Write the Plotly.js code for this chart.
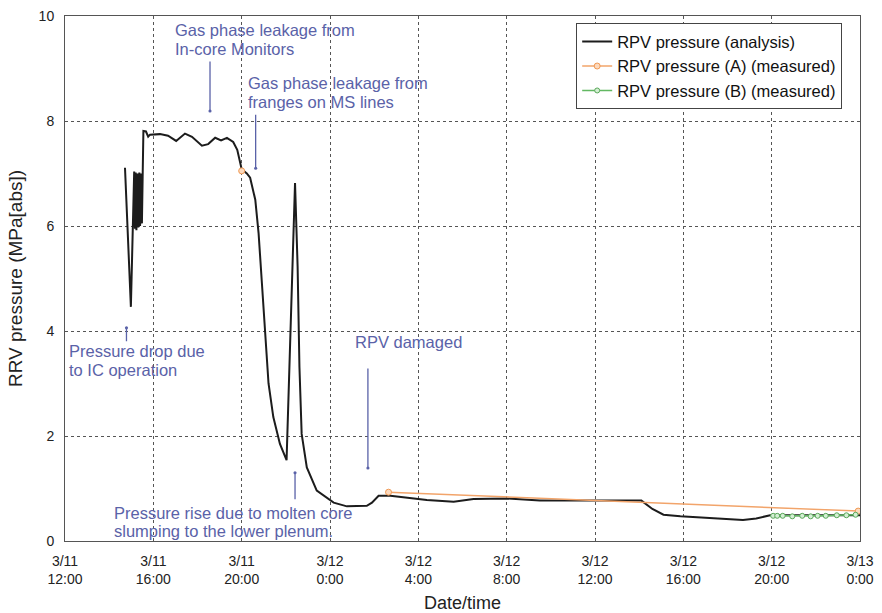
<!DOCTYPE html>
<html>
<head>
<meta charset="utf-8">
<script src="https://cdn.plot.ly/plotly-3.0.1.min.js"></script>
<style>html,body{margin:0;padding:0;background:#fff;}#chart{width:882px;height:613px;}</style>
</head>
<body>
<div id="chart"></div>
<script>
// ---- data ----
const analysisTime = [
'2011-03-11 14:43','2011-03-11 14:59','2011-03-11 15:08','2011-03-11 15:10','2011-03-11 15:12',
'2011-03-11 15:14','2011-03-11 15:17','2011-03-11 15:19','2011-03-11 15:22','2011-03-11 15:24',
'2011-03-11 15:27','2011-03-11 15:29','2011-03-11 15:31','2011-03-11 15:33','2011-03-11 15:40',
'2011-03-11 15:46','2011-03-11 15:51','2011-03-11 16:18','2011-03-11 16:40','2011-03-11 17:02',
'2011-03-11 17:26','2011-03-11 17:45','2011-03-11 18:12','2011-03-11 18:29','2011-03-11 18:48',
'2011-03-11 19:04','2011-03-11 19:20','2011-03-11 19:37','2011-03-11 19:48','2011-03-11 20:00',
'2011-03-11 20:14','2011-03-11 20:23','2011-03-11 20:37','2011-03-11 20:46','2011-03-11 20:55',
'2011-03-11 21:04','2011-03-11 21:13','2011-03-11 21:26','2011-03-11 21:44','2011-03-11 22:02',
'2011-03-11 22:25','2011-03-11 22:32','2011-03-11 22:37','2011-03-11 22:43','2011-03-11 22:57',
'2011-03-11 23:24','2011-03-12 00:10','2011-03-12 00:46','2011-03-12 01:40','2011-03-12 01:54',
'2011-03-12 02:12','2011-03-12 02:44','2011-03-12 03:29','2011-03-12 04:23','2011-03-12 05:36',
'2011-03-12 06:30','2011-03-12 08:00','2011-03-12 09:30','2011-03-12 11:18','2011-03-12 14:06',
'2011-03-12 14:36','2011-03-12 15:06','2011-03-12 15:52','2011-03-12 17:24','2011-03-12 18:42',
'2011-03-12 19:18','2011-03-12 19:56','2011-03-13 00:00'
];
const analysisP = [
7.11,4.46,7.04,5.95,7.02,
5.92,7.00,5.97,7.02,6.00,
7.00,6.05,6.95,7.81,7.80,
7.70,7.74,7.75,7.72,7.62,
7.76,7.70,7.53,7.56,7.68,
7.63,7.68,7.60,7.45,7.08,
7.00,6.92,6.50,5.86,4.91,
3.96,3.00,2.36,1.85,1.54,
6.82,5.23,3.31,2.04,1.40,
0.96,0.73,0.66,0.67,0.73,
0.86,0.86,0.83,0.78,0.75,
0.80,0.81,0.77,0.77,0.77,
0.61,0.50,0.47,0.43,0.40,
0.43,0.49,0.49
];
const measuredATime = ['2011-03-11 20:00','2011-03-12 01:00','2011-03-12 02:39','2011-03-12 23:55'];
const measuredAP = [7.05, null, 0.93, 0.57];
const measuredBTime = ['2011-03-12 20:04','2011-03-12 20:15','2011-03-12 20:30','2011-03-12 20:56',
  '2011-03-12 21:23','2011-03-12 21:46','2011-03-12 22:05','2011-03-12 22:27','2011-03-12 22:57',
  '2011-03-12 23:23','2011-03-12 23:48'];
const measuredBP = [0.48,0.48,0.48,0.47,0.48,0.47,0.48,0.48,0.49,0.49,0.50];

const tickVals = ['2011-03-11 12:00','2011-03-11 16:00','2011-03-11 20:00','2011-03-12 00:00',
  '2011-03-12 04:00','2011-03-12 08:00','2011-03-12 12:00','2011-03-12 16:00','2011-03-12 20:00','2011-03-13 00:00'];
const tickText = ['3/11<br>12:00','3/11<br>16:00','3/11<br>20:00','3/12<br>0:00','3/12<br>4:00',
  '3/12<br>8:00','3/12<br>12:00','3/12<br>16:00','3/12<br>20:00','3/13<br>0:00'];

// annotation texts: [text, time, pressure]
const noteTexts = [
  ['Gas phase leakage from', '2011-03-11 16:53', 9.73],
  ['In-core Monitors', '2011-03-11 16:53', 9.38],
  ['Gas phase leakage from', '2011-03-11 20:12', 8.72],
  ['franges on MS lines', '2011-03-11 20:12', 8.37],
  ['Pressure drop due', '2011-03-11 12:05', 3.62],
  ['to IC operation', '2011-03-11 12:05', 3.26],
  ['RPV damaged', '2011-03-12 01:03', 3.80],
  ['Pressure rise due to molten core', '2011-03-11 14:07', 0.54],
  ['slumping to the lower plenum.', '2011-03-11 14:07', 0.19]
];
// arrows: [head time, head pressure, tail pixel offset (ay)]
const noteArrows = [
  ['2011-03-11 18:34', 8.19, -51],
  ['2011-03-11 20:38', 7.10, -55],
  ['2011-03-11 14:47', 4.06, 15],
  ['2011-03-12 01:43', 1.39, -101],
  ['2011-03-11 22:25', 1.30, 28]
];

const noteColor = '#5a62a8';
const fontFam = '"Liberation Sans", Arial, sans-serif';

const traces = [
  {x: analysisTime, y: analysisP, type: 'scatter', mode: 'lines', name: 'RPV pressure (analysis)',
   line: {color: '#1c1c1c', width: 2}},
  {x: measuredATime, y: measuredAP, type: 'scatter', mode: 'lines+markers', name: 'RPV pressure (A) (measured)',
   connectgaps: false,
   line: {color: '#f2a46a', width: 1.5},
   marker: {symbol: 'circle', size: 6, color: '#fcd9bd', line: {color: '#f09a55', width: 1}}},
  {x: measuredBTime, y: measuredBP, type: 'scatter', mode: 'lines+markers', name: 'RPV pressure (B) (measured)',
   line: {color: '#62b862', width: 1.5},
   marker: {symbol: 'circle', size: 5, color: '#d4efd4', line: {color: '#5aa85a', width: 1}}}
];

const annotations = [];
noteTexts.forEach(n => annotations.push({
  x: n[1], y: n[2], xref: 'x', yref: 'y', text: n[0], showarrow: false,
  xanchor: 'left', yanchor: 'middle', font: {family: fontFam, size: 16.5, color: noteColor}
}));
noteArrows.forEach(a => annotations.push({
  x: a[0], y: a[1], xref: 'x', yref: 'y', text: '', showarrow: true,
  ax: 0, ay: a[2], arrowhead: 6, arrowsize: 0.6, arrowwidth: 1.3, arrowcolor: noteColor, standoff: 0
}));

const layout = {
  width: 882, height: 613,
  margin: {l: 65, r: 22, t: 16, b: 72},
  paper_bgcolor: '#fff', plot_bgcolor: '#fff',
  font: {family: fontFam, color: '#222'},
  showlegend: true,
  legend: {x: 0.643, y: 0.986, xanchor: 'left', yanchor: 'top', bgcolor: '#fff',
    bordercolor: '#444', borderwidth: 1, font: {family: fontFam, size: 16.5, color: '#111'},
    itemwidth: 30, tracegroupgap: 0},
  xaxis: {
    type: 'date', range: ['2011-03-11 12:00', '2011-03-13 00:00'],
    tickvals: tickVals, ticktext: tickText, tickangle: 0,
    tickfont: {family: fontFam, size: 14, color: '#222'},
    ticks: 'outside', ticklen: 7, tickcolor: 'rgba(0,0,0,0)',
    showgrid: true, gridcolor: '#555', griddash: 'dot', gridwidth: 1,
    showline: true, linecolor: '#555', linewidth: 1, mirror: true, zeroline: false,
    title: {text: 'Date/time', font: {family: fontFam, size: 18, color: '#222'}, standoff: 10},
    automargin: false
  },
  yaxis: {
    range: [0, 10], dtick: 2, tick0: 0,
    tickfont: {family: fontFam, size: 14, color: '#222'},
    ticks: 'outside', ticklen: 7, tickcolor: 'rgba(0,0,0,0)',
    showgrid: true, gridcolor: '#555', griddash: 'dot', gridwidth: 1,
    showline: true, linecolor: '#555', linewidth: 1, mirror: true, zeroline: false,
    title: {text: 'RRV pressure (MPa[abs])', font: {family: fontFam, size: 19, color: '#222'}, standoff: 10},
    automargin: false
  },
  annotations: annotations
};

Plotly.newPlot('chart', traces, layout, {displayModeBar: false, staticPlot: true});
</script>
</body>
</html>
